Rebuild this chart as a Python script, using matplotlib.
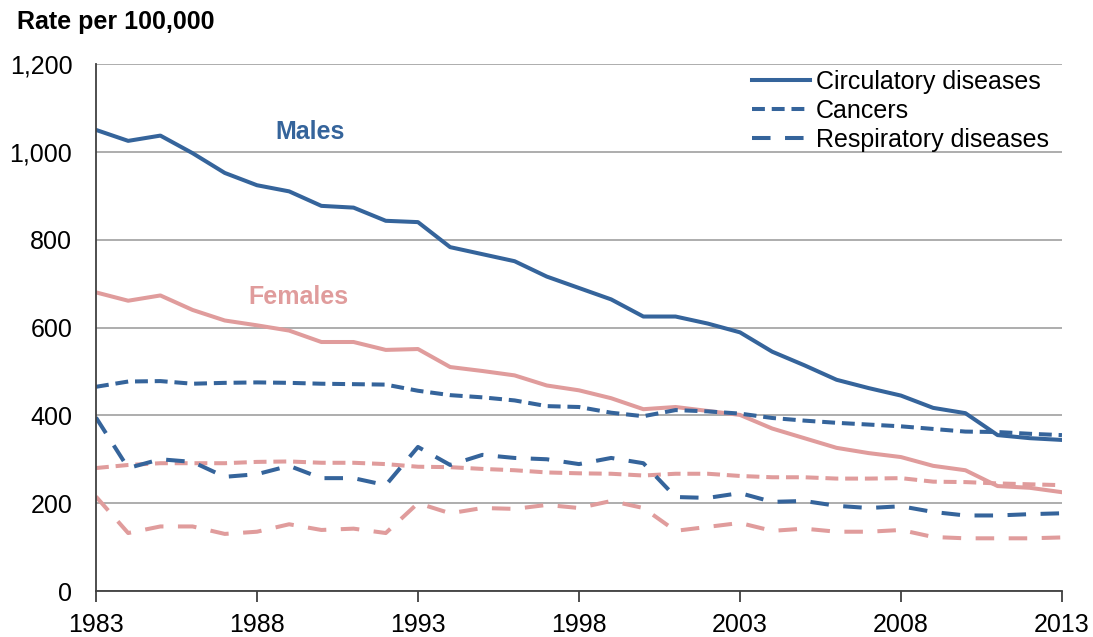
import matplotlib.pyplot as plt
from matplotlib.ticker import FuncFormatter

plt.rcParams['font.family'] = ['Liberation Sans', 'DejaVu Sans']

years = list(range(1983, 2014))

male_circulatory = [1050, 1025, 1037, 997, 952, 924, 910, 877, 873, 843, 840,
                    783, 767, 751, 716, 690, 664, 625, 625, 609, 589,
                    545, 514, 481, 462, 445, 417, 405, 355, 348, 344]
female_circulatory = [680, 661, 673, 640, 616, 605, 593, 567, 567, 549, 551,
                      510, 501, 491, 468, 457, 439, 414, 419, 410, 401,
                      370, 348, 326, 314, 305, 285, 275, 239, 235, 225]
male_cancers = [465, 477, 478, 472, 474, 475, 474, 472, 471, 470, 456,
                446, 441, 434, 421, 419, 406, 398, 412, 409, 404,
                394, 388, 383, 379, 375, 369, 363, 362, 358, 355]
female_cancers = [280, 287, 291, 291, 291, 294, 295, 292, 292, 289, 283,
                  282, 278, 275, 270, 268, 267, 263, 267, 267, 262,
                  259, 259, 256, 256, 257, 249, 248, 245, 243, 241]
male_respiratory = [395, 280, 300, 294, 260, 266, 285, 257, 257, 241, 328,
                    287, 310, 303, 300, 289, 303, 291, 214, 212, 223,
                    203, 205, 194, 189, 193, 180, 172, 172, 175, 177]
female_respiratory = [215, 132, 147, 147, 130, 135, 152, 139, 142, 132, 200,
                      177, 189, 187, 196, 189, 205, 189, 137, 146, 155,
                      137, 142, 135, 135, 139, 123, 120, 120, 120, 122]

blue = '#35649b'
pink = '#e09c9c'
fs = 18

fig = plt.figure(figsize=(10.93, 6.37), dpi=100)
ax = fig.add_axes([0.0878, 0.0722, 0.8838, 0.8273])

lw = 2.9
short_dash = (3.2, 1.7)
long_dash = (4.6, 3.6)

ax.plot(years, female_circulatory, color=pink, lw=lw)
ax.plot(years, female_cancers, color=pink, lw=lw, dashes=short_dash)
ax.plot(years, female_respiratory, color=pink, lw=lw, dashes=long_dash)
l1, = ax.plot(years, male_circulatory, color=blue, lw=lw,
              label='Circulatory diseases')
l2, = ax.plot(years, male_cancers, color=blue, lw=lw, dashes=short_dash,
              label='Cancers')
l3, = ax.plot(years, male_respiratory, color=blue, lw=lw, dashes=long_dash,
              label='Respiratory diseases')

ax.set_xlim(1983, 2013)
ax.set_ylim(0, 1200)
ax.set_xticks(range(1983, 2014, 5))
ax.set_yticks(range(0, 1201, 200))
ax.yaxis.set_major_formatter(FuncFormatter(lambda v, p: '{:,.0f}'.format(v)))
ax.grid(axis='y', color='#a0a0a0', lw=1.2)
ax.set_axisbelow(True)

for s in ['top', 'right']:
    ax.spines[s].set_visible(False)
ax.spines['left'].set_color('#404040')
ax.spines['bottom'].set_color('#404040')
ax.spines['left'].set_linewidth(1.3)
ax.spines['bottom'].set_linewidth(1.3)
ax.tick_params(axis='x', direction='out', length=8, width=1.3,
               color='#404040', labelsize=fs, pad=8)
ax.tick_params(axis='y', length=0, labelsize=fs, pad=17)

ax.text(1989.65, 1045, 'Males', color=blue, fontsize=fs, fontweight='bold',
        ha='center', va='center')
ax.text(1989.3, 669, 'Females', color=pink, fontsize=fs, fontweight='bold',
        ha='center', va='center')

ax.legend(handles=[l1, l2, l3], loc='upper right', frameon=False,
          fontsize=fs, handlelength=2.3, handletextpad=0.25,
          labelspacing=0.2, borderaxespad=0.0,
          bbox_to_anchor=(0.997, 1.008))

fig.text(0.016, 0.965, 'Rate per 100,000', fontsize=fs, fontweight='bold',
         ha='left', va='center')

fig.savefig('out.png', dpi=100)
